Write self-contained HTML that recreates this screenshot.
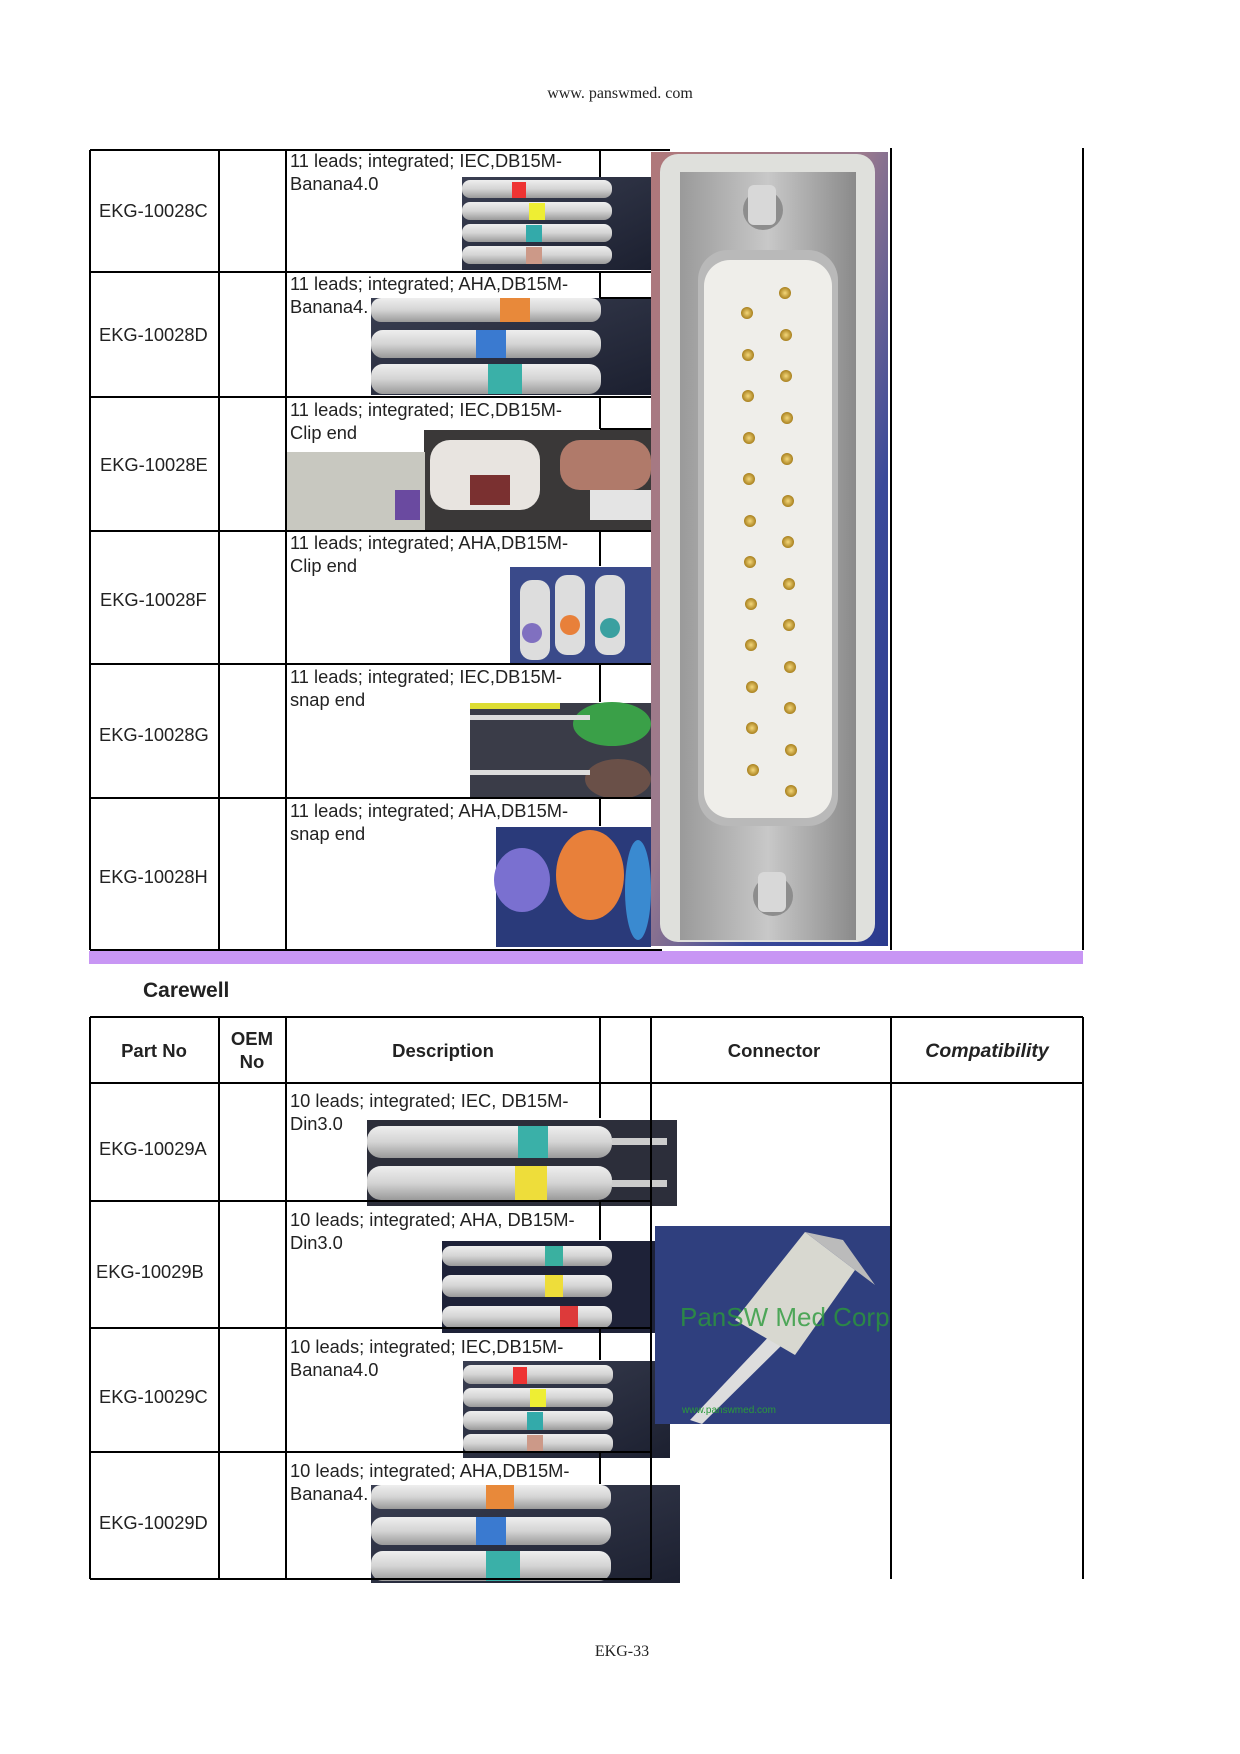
<!DOCTYPE html>
<html><head><meta charset="utf-8"><style>
html,body{margin:0;padding:0;background:#fff}
svg{display:block}
text{font-family:"Liberation Sans",Arial,sans-serif}
.ser{font-family:"Liberation Serif","Noto Serif CJK SC",serif}
</style></head><body>
<svg width="1240" height="1754" viewBox="0 0 1240 1754" xmlns="http://www.w3.org/2000/svg">
<defs>
<linearGradient id="cab" x1="0" y1="0" x2="0" y2="1"><stop offset="0" stop-color="#eee"/><stop offset=".5" stop-color="#d4d4d4"/><stop offset="1" stop-color="#9a9a9a"/></linearGradient>
<linearGradient id="bg1" x1="0" y1="0" x2="1" y2="1"><stop offset="0" stop-color="#3a3f52"/><stop offset="1" stop-color="#1c2030"/></linearGradient>
<linearGradient id="cbg" x1="0" y1="0" x2="1" y2="1"><stop offset="0" stop-color="#b0787a"/><stop offset=".45" stop-color="#9a7a8e"/><stop offset=".7" stop-color="#3a4a9a"/><stop offset="1" stop-color="#2a3a8e"/></linearGradient>
<linearGradient id="silv" x1="0" y1="0" x2="1" y2="0"><stop offset="0" stop-color="#9a9a9a"/><stop offset=".5" stop-color="#c8c8c8"/><stop offset="1" stop-color="#8a8a8a"/></linearGradient>
<radialGradient id="gold"><stop offset="0" stop-color="#f4d77a"/><stop offset="1" stop-color="#a8801e"/></radialGradient>
</defs>

<text x="620" y="98" text-anchor="middle" font-size="16" class="ser" fill="#222">www. panswmed. com</text>

<rect x="651" y="152" width="237" height="794" fill="url(#cbg)"/>
<rect x="660" y="154" width="215" height="788" rx="18" fill="#dfe0dc"/>
<rect x="680" y="172" width="176" height="768" fill="url(#silv)"/>
<rect x="698" y="250" width="140" height="576" rx="30" fill="#b9b9b9"/>
<rect x="704" y="260" width="128" height="558" rx="26" fill="#efeeea"/>
<circle cx="763" cy="210" r="20" fill="#8d8d8d"/><rect x="748" y="185" width="28" height="40" rx="6" fill="#d8d8d8"/>
<circle cx="773" cy="896" r="20" fill="#8d8d8d"/><rect x="758" y="872" width="28" height="40" rx="6" fill="#d8d8d8"/>
<g fill="url(#gold)">
<circle cx="785" cy="293" r="6"/><circle cx="786" cy="335" r="6"/><circle cx="786" cy="376" r="6"/><circle cx="787" cy="418" r="6"/><circle cx="787" cy="459" r="6"/><circle cx="788" cy="501" r="6"/><circle cx="788" cy="542" r="6"/><circle cx="789" cy="584" r="6"/><circle cx="789" cy="625" r="6"/><circle cx="790" cy="667" r="6"/><circle cx="790" cy="708" r="6"/><circle cx="791" cy="750" r="6"/><circle cx="791" cy="791" r="6"/>
<circle cx="747" cy="313" r="6"/><circle cx="748" cy="355" r="6"/><circle cx="748" cy="396" r="6"/><circle cx="749" cy="438" r="6"/><circle cx="749" cy="479" r="6"/><circle cx="750" cy="521" r="6"/><circle cx="750" cy="562" r="6"/><circle cx="751" cy="604" r="6"/><circle cx="751" cy="645" r="6"/><circle cx="752" cy="687" r="6"/><circle cx="752" cy="728" r="6"/><circle cx="753" cy="770" r="6"/>
</g>

<g>
<rect x="462" y="177" width="189" height="93" fill="url(#bg1)"/>
<rect x="462" y="180" width="150" height="18" rx="8" fill="url(#cab)"/><rect x="462" y="202" width="150" height="18" rx="8" fill="url(#cab)"/><rect x="462" y="224" width="150" height="18" rx="8" fill="url(#cab)"/><rect x="462" y="246" width="150" height="18" rx="8" fill="url(#cab)"/>
<rect x="512" y="182" width="14" height="16" fill="#e33"/><rect x="529" y="203" width="16" height="17" fill="#ee3"/><rect x="526" y="225" width="16" height="17" fill="#3aa"/><rect x="526" y="247" width="16" height="17" fill="#c98"/>

<rect x="371" y="298" width="280" height="97" fill="url(#bg1)"/>
<rect x="371" y="298" width="230" height="24" rx="10" fill="url(#cab)"/><rect x="371" y="330" width="230" height="28" rx="12" fill="url(#cab)"/><rect x="371" y="364" width="230" height="30" rx="12" fill="url(#cab)"/>
<rect x="500" y="298" width="30" height="24" fill="#e8893a"/><rect x="476" y="330" width="30" height="28" fill="#3a7ad0"/><rect x="488" y="364" width="34" height="30" fill="#3ab0a8"/>

<rect x="424" y="430" width="227" height="101" fill="#3a3838"/>
<rect x="285" y="452" width="140" height="79" fill="#c8c8c0"/><rect x="430" y="440" width="110" height="70" rx="20" fill="#e8e4e0"/><rect x="560" y="440" width="91" height="50" rx="20" fill="#b07a6a"/><rect x="470" y="475" width="40" height="30" fill="#7a3030"/><rect x="395" y="490" width="25" height="30" fill="#6a4aa0"/><rect x="590" y="490" width="61" height="30" fill="#e4e4e4"/>

<rect x="510" y="567" width="141" height="97" fill="#3a4a8a"/>
<rect x="520" y="580" width="30" height="80" rx="12" fill="#ddd"/><rect x="555" y="575" width="30" height="80" rx="12" fill="#ddd"/><rect x="595" y="575" width="30" height="80" rx="12" fill="#ddd"/>
<circle cx="532" cy="633" r="10" fill="#8070c0"/><circle cx="570" cy="625" r="10" fill="#e8803a"/><circle cx="610" cy="628" r="10" fill="#3aa0a0"/>

<rect x="470" y="703" width="181" height="96" fill="#3a3c48"/>
<ellipse cx="612" cy="724" rx="39" ry="22" fill="#3aa048"/><ellipse cx="618" cy="779" rx="33" ry="20" fill="#6a5048"/><rect x="470" y="715" width="120" height="5" fill="#ddd"/><rect x="470" y="770" width="120" height="5" fill="#ddd"/><rect x="470" y="703" width="90" height="6" fill="#dd3"/>

<rect x="496" y="827" width="155" height="120" fill="#2a3a7a"/>
<ellipse cx="522" cy="880" rx="28" ry="32" fill="#7a70d0"/><ellipse cx="590" cy="875" rx="34" ry="45" fill="#e8803a"/><ellipse cx="638" cy="890" rx="13" ry="50" fill="#3a8ad0"/>
</g>

<g stroke="#000" stroke-width="2" fill="none">
<line x1="90" y1="150" x2="670" y2="150"/>
<line x1="90" y1="150" x2="90" y2="950"/>
<line x1="219" y1="150" x2="219" y2="950"/>
<line x1="286" y1="150" x2="286" y2="950"/>
<line x1="891" y1="148" x2="891" y2="950"/>
<line x1="1083" y1="148" x2="1083" y2="950"/>
<line x1="90" y1="272" x2="651" y2="272"/>
<line x1="90" y1="397" x2="651" y2="397"/>
<line x1="90" y1="531" x2="651" y2="531"/>
<line x1="90" y1="664" x2="651" y2="664"/>
<line x1="90" y1="798" x2="651" y2="798"/>
<line x1="90" y1="950" x2="662" y2="950"/>
<line x1="600" y1="150" x2="600" y2="177"/><line x1="600" y1="272" x2="600" y2="298"/><line x1="600" y1="397" x2="600" y2="429"/><line x1="600" y1="531" x2="600" y2="566"/><line x1="600" y1="664" x2="600" y2="702"/><line x1="600" y1="798" x2="600" y2="826"/>
<line x1="600" y1="298" x2="651" y2="298"/><line x1="600" y1="429" x2="651" y2="429"/>
</g>
<g font-size="18.3" fill="#222">
<text x="99" y="217">EKG-10028C</text>
<text x="99" y="341">EKG-10028D</text>
<text x="100" y="471">EKG-10028E</text>
<text x="100" y="606">EKG-10028F</text>
<text x="99" y="741">EKG-10028G</text>
<text x="99" y="883">EKG-10028H</text>
<text x="290" y="167">11 leads; integrated; IEC,DB15M-</text><text x="290" y="190">Banana4.0</text>
<text x="290" y="290">11 leads; integrated; AHA,DB15M-</text><text x="290" y="313">Banana4.</text>
<text x="290" y="416">11 leads; integrated; IEC,DB15M-</text><text x="290" y="439">Clip end</text>
<text x="290" y="549">11 leads; integrated; AHA,DB15M-</text><text x="290" y="572">Clip end</text>
<text x="290" y="683">11 leads; integrated; IEC,DB15M-</text><text x="290" y="706">snap end</text>
<text x="290" y="817">11 leads; integrated; AHA,DB15M-</text><text x="290" y="840">snap end</text>
</g>

<rect x="89" y="951" width="994" height="13" fill="#c896f4"/>
<text x="143" y="997" font-size="21" font-weight="bold" fill="#222">Carewell</text>

<rect x="367" y="1120" width="310" height="86" fill="#2c2e3a"/>
<rect x="367" y="1126" width="245" height="32" rx="14" fill="url(#cab)"/><rect x="367" y="1166" width="245" height="34" rx="14" fill="url(#cab)"/>
<rect x="518" y="1126" width="30" height="32" fill="#3ab0a8"/><rect x="515" y="1166" width="32" height="34" fill="#eedd3a"/>
<rect x="612" y="1138" width="55" height="7" fill="#ccc"/><rect x="612" y="1180" width="55" height="7" fill="#ccc"/>

<rect x="442" y="1241" width="228" height="92" fill="#1e2238"/>
<rect x="442" y="1246" width="170" height="20" rx="9" fill="url(#cab)"/><rect x="442" y="1275" width="170" height="22" rx="9" fill="url(#cab)"/><rect x="442" y="1306" width="170" height="22" rx="9" fill="url(#cab)"/>
<rect x="545" y="1246" width="18" height="20" fill="#3ab0a0"/><rect x="545" y="1275" width="18" height="22" fill="#eedd3a"/><rect x="560" y="1306" width="18" height="22" fill="#dd3a3a"/>

<rect x="463" y="1361" width="207" height="97" fill="url(#bg1)"/>
<rect x="463" y="1365" width="150" height="19" rx="8" fill="url(#cab)"/><rect x="463" y="1388" width="150" height="19" rx="8" fill="url(#cab)"/><rect x="463" y="1411" width="150" height="19" rx="8" fill="url(#cab)"/><rect x="463" y="1434" width="150" height="19" rx="8" fill="url(#cab)"/>
<rect x="513" y="1367" width="14" height="17" fill="#e33"/><rect x="530" y="1389" width="16" height="18" fill="#ee3"/><rect x="527" y="1412" width="16" height="18" fill="#3aa"/><rect x="527" y="1435" width="16" height="18" fill="#c98"/>

<rect x="371" y="1485" width="309" height="98" fill="url(#bg1)"/>
<rect x="371" y="1485" width="240" height="24" rx="10" fill="url(#cab)"/><rect x="371" y="1517" width="240" height="28" rx="12" fill="url(#cab)"/><rect x="371" y="1551" width="240" height="30" rx="12" fill="url(#cab)"/>
<rect x="486" y="1485" width="28" height="24" fill="#e8893a"/><rect x="476" y="1517" width="30" height="28" fill="#3a7ad0"/><rect x="486" y="1551" width="34" height="30" fill="#3ab0a8"/>

<rect x="655" y="1226" width="236" height="198" fill="#2f3f7e"/>
<path d="M690 1420 L775 1330 L787 1340 L702 1424 Z" fill="#ddd"/>
<polygon points="735,1320 805,1232 855,1270 795,1355" fill="#d8d8d0"/>
<polygon points="805,1232 843,1240 875,1285 855,1270" fill="#bbb"/>
<text x="680" y="1326" font-size="26" fill="#2a9a3a" fill-opacity="0.8">PanSW Med Corp</text>
<text x="682" y="1413" font-size="10" fill="#2a9a3a">www.panswmed.com</text>

<g stroke="#000" stroke-width="2" fill="none">
<line x1="90" y1="1017" x2="1083" y2="1017"/>
<line x1="90" y1="1083" x2="1083" y2="1083"/>
<line x1="90" y1="1017" x2="90" y2="1579"/>
<line x1="219" y1="1017" x2="219" y2="1579"/>
<line x1="286" y1="1017" x2="286" y2="1579"/>
<line x1="600" y1="1017" x2="600" y2="1083"/>
<line x1="651" y1="1017" x2="651" y2="1579"/>
<line x1="891" y1="1017" x2="891" y2="1579"/>
<line x1="1083" y1="1017" x2="1083" y2="1579"/>
<line x1="90" y1="1201" x2="651" y2="1201"/>
<line x1="90" y1="1328" x2="651" y2="1328"/>
<line x1="90" y1="1452" x2="651" y2="1452"/>
<line x1="90" y1="1579" x2="651" y2="1579"/>
<line x1="600" y1="1083" x2="600" y2="1118"/><line x1="600" y1="1201" x2="600" y2="1240"/><line x1="600" y1="1328" x2="600" y2="1360"/><line x1="600" y1="1452" x2="600" y2="1484"/>
</g>
<g font-size="18.5" font-weight="bold" fill="#222" text-anchor="middle">
<text x="154" y="1057">Part No</text>
<text x="252" y="1045">OEM</text><text x="252" y="1068">No</text>
<text x="443" y="1057">Description</text>
<text x="774" y="1057">Connector</text>
<text x="987" y="1057" font-style="italic" font-size="19.5">Compatibility</text>
</g>
<g font-size="18.3" fill="#222">
<text x="99" y="1155">EKG-10029A</text>
<text x="96" y="1278">EKG-10029B</text>
<text x="99" y="1403">EKG-10029C</text>
<text x="99" y="1529">EKG-10029D</text>
<text x="290" y="1107">10 leads; integrated; IEC, DB15M-</text><text x="290" y="1130">Din3.0</text>
<text x="290" y="1226">10 leads; integrated; AHA, DB15M-</text><text x="290" y="1249">Din3.0</text>
<text x="290" y="1353">10 leads; integrated; IEC,DB15M-</text><text x="290" y="1376">Banana4.0</text>
<text x="290" y="1477">10 leads; integrated; AHA,DB15M-</text><text x="290" y="1500">Banana4.</text>
</g>

<text x="622" y="1656" text-anchor="middle" font-size="16" class="ser" fill="#222">EKG-33</text>
</svg>
</body></html>
